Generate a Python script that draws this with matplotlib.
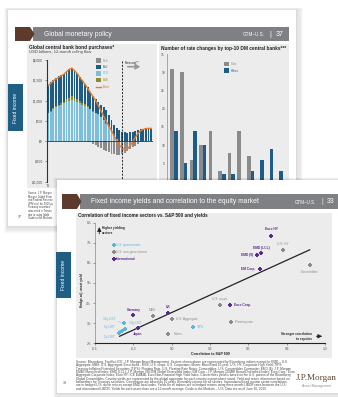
import matplotlib
matplotlib.use('Agg')
import matplotlib.pyplot as plt
from matplotlib import font_manager
from matplotlib.patches import Rectangle, Polygon

# ---------------- data ----------------
# Global central bank bond purchases, USD billions, 12-month rolling flow
fed = [0, 0, 0, 0, 0, 0, 0, 0, 0, 0, 0, 0, 0, 0, 0, -10, -30, -60, -100, -145,
       -180, -215, -250, -280, -305, -320, -330, -330, -320, -290, -250, -200,
       -150, -110, -60, -25, -5, 0, 0, 0]
ecb = [683, 725, 783, 833, 867, 900, 933, 975, 1000, 1017, 992, 967, 933, 900,
       867, 830, 780, 730, 690, 660, 590, 510, 430, 340, 220, 130, 50, 10, 0, 0,
       0, 0, 0, 0, 0, 0, 0, 0, 0, 0]
boe = [20, 25, 25, 25, 25, 30, 40, 60, 75, 85, 80, 70, 60, 50, 40, 30, 20, 15,
       10, 10, 10, 5, 5, 5, 5, 5, 5, 5, 5, 5, 5, 5, 5, 5, 5, 5, 5, 5, 5, 5]
boj = [689, 700, 709, 700, 708, 703, 694, 690, 708, 706, 678, 646, 590, 550, 510,
       470, 420, 365, 330, 300, 300, 315, 325, 305, 295, 265, 265, 255, 220, 210,
       205, 210, 220, 240, 270, 295, 305, 306, 306, 306]
total = [1367, 1420, 1490, 1530, 1570, 1610, 1650, 1710, 1770, 1800, 1740, 1670,
         1570, 1490, 1400, 1300, 1200, 1100, 1000, 880, 750, 620, 490, 370, 260,
         130, 0, -90, -170, -220, -190, -120, -20, 90, 190, 255, 290, 310, 315, 315]
year_ticks = [0]
year_labels = ["'16"]
forecast_at = 27.9
cb_ticks = [-1000, -500, 0, 500, 1000, 1500, 2000]
cb_labels = ['-$1,000', '-$500', '$0', '$500', '$1,000', '$1,500', '$2,000']

# Number of rate changes by top-10 DM central banks
cuts = [31, 30, 6, 10, 14, 3, 8, 14, 7, 0, 0, 0]
hikes = [14, 5, 14, 10, 0, 2, 2, 0, 3, 6, 9, 3]

# Correlation of fixed income sectors vs. S&P 500 and yields
sectors = ['30y UST', '10y UST', '5y UST', '2y UST', 'TIPS', 'MBS', 'U.S. Aggregate',
           'Munis', 'U.S. corps', 'Floating rate', 'U.S. HY', 'Convertibles',
           'Germany', 'Japan', 'UK', 'Euro Corp.', 'EM Corp.', 'EMD ($)',
           'EMD (LCL)', 'Euro HY']
corr = [-0.313, -0.305, -0.324, -0.342, 0.141, -0.124, 0.0, -0.022, 0.315, 0.389,
        0.724, 0.904, -0.250, -0.220, -0.026, 0.382, 0.574, 0.556, 0.584, 0.648]
yld = [3.00, 2.72, 2.60, 2.50, 2.82, 3.37, 3.22, 2.44, 3.92, 3.05, 6.64, 5.89,
       3.43, 2.77, 3.49, 3.90, 5.70, 6.37, 6.47, 7.35]
group = ['gov', 'gov', 'gov', 'gov', 'gov', 'non', 'non', 'non', 'non', 'non',
         'non', 'non', 'intl', 'intl', 'intl', 'intl', 'intl', 'intl', 'intl', 'intl']
trend_x = [-0.34, 0.90]
trend_y = [2.35, 6.65]
group_names = ['gov', 'non', 'intl']
group_labels = ['U.S. government', 'U.S. non-government', 'International']
corr_ticks = [-0.5, -0.25, 0.0, 0.25, 0.5, 0.75, 1.0]
corr_labels = ['-0.5', '-0.3', '0.0', '0.3', '0.5', '0.8', '1.0']
yld_ticks = [2, 3, 4, 5, 6, 7, 8]

back_source = ['Source: J.P. Morgan', 'Morgan Global Econ', 'and Federal Reserve',
               'JPM and, for 2019 pu', 'Treasury securities.', 'reinvested in Treasu',
               'due to rising liabilit', 'Guide to the Markets']
front_source = [
    'Source: Bloomberg, FactSet, ICE, J.P. Morgan Asset Management. Sectors shown above are represented by Bloomberg indices except for EMD – U.S.',
    'Aggregate; MBS: U.S. Aggregate Securitized - MBS; U.S. corps: U.S. Corporates; Munis: Muni Bond 10-year; U.S. HY: Corporate High Yield; TIPS:',
    'Treasury Inflation Protected Securities (TIPS); Floating Rate: U.S. Floating Rate Notes; Convertibles: U.S. Convertibles Composite; EMD ($): J.P. Morgan',
    'EMBI Diversified Index; EMD (LCL): J.P. Morgan GBI-EM Global Diversified Index; EM Corp.: J.P. Morgan CEMBI Broad Diversified Index; Euro Corp.: Euro',
    'Aggregate Corporate Index; Euro HY: ICE BofAML Euro Non-Financial High Yield Index. Convertibles yield is based on the U.S. portion of the Bloomberg',
    'Global Convertibles. Country yields are represented by the global aggregate for each country except where noted. Yield and return information based on',
    'bellwethers for Treasury securities. Correlations are based on 10 years of monthly returns for all sectors. International fixed income sector correlations',
    'are in hedged U.S. dollar returns except EMD local index. Yields for all indices are in hedged returns using three-month LIBOR rates between the U.S.',
    'and international LIBOR. Yields for each asset class are a 12-month average. Guide to the Markets – U.S. Data are as of June 30, 2019.',
]

# ---------------- style ----------------
names = {f.name for f in font_manager.fontManager.ttflist}
NARROW = 'Liberation Sans Narrow' in names
FONT = 'Liberation Sans Narrow' if NARROW else 'Liberation Sans'
K = 1.0 if NARROW else 0.86
plt.rcParams['font.family'] = [FONT, 'DejaVu Sans']

GREY_HDR = '#7f8083'
BROWN = '#5d3a2b'
TAB = '#1f5f86'
PANEL = '#ececec'
C_FED = '#8b8b8b'
C_BOJ = '#1d5c86'
C_ECB = '#7cbfdd'
C_BOE = '#8c8c2e'
C_TOT = '#ec7a24'
C_GOV = '#5ab4de'
C_NON = '#8a8a8a'
C_INT = '#5b2a8e'
colors = {'gov': C_GOV, 'non': C_NON, 'intl': C_INT}

W, H = 338, 397
fig = plt.figure(figsize=(W / 100, H / 100), dpi=100)
fig.patch.set_facecolor('white')
renderer = fig.canvas.get_renderer()


def rect(x0, y0, x1, y1):
    return [x0 / W, 1 - y1 / H, (x1 - x0) / W, (y1 - y0) / H]


def fit(t, width):
    # scale a text so that it spans the width seen in the reference
    for _ in range(3):
        w = t.get_window_extent(renderer=renderer).width
        if w > 0:
            t.set_fontsize(t.get_fontsize() * width / w)
    return t


def page_ax(z):
    a = fig.add_axes([0, 0, 1, 1])
    a.set_xlim(0, W)
    a.set_ylim(H, 0)
    a.axis('off')
    a.set_zorder(z)
    a.patch.set_alpha(0)
    return a


def slide(a, x0, y0, x1, y1):
    for k in range(1, 7):
        a.add_patch(Rectangle((x0 - k * 0.6, y0 - k * 0.4), x1 - x0 + k * 1.8, y1 - y0 + k * 1.6,
                              color='black', alpha=0.025, lw=0))
    a.add_patch(Rectangle((x0, y0), x1 - x0, y1 - y0, color='white', lw=0))


def header(a, x0, x1, y0, y1, title, title_w):
    ym = (y0 + y1) / 2
    a.add_patch(Rectangle((x0 + 18, y0), x1 - x0 - 18, y1 - y0, color=GREY_HDR, lw=0))
    a.add_patch(Polygon([(x0, y0), (x0 + 15, y0), (x0 + 19.5, ym), (x0 + 15, y1), (x0, y1)],
                        color=BROWN, lw=0))
    fit(a.text(x0 + 29, ym, title, color='white', fontsize=6, va='center'), title_w)


def tab(a, x0, y0, x1, y1):
    a.add_patch(Rectangle((x0, y0), x1 - x0, y1 - y0, color=TAB, lw=0))
    a.text((x0 + x1) / 2, (y0 + y1) / 2, 'Fixed income', color='white', fontsize=4.2 * K,
           rotation=90, ha='center', va='center')


# ---------------- back slide ----------------
bg0 = page_ax(0)
slide(bg0, 8, 10, 296, 226)
header(bg0, 15, 289, 27, 41, 'Global monetary policy', 68)
bg0.text(243, 34.6, 'GTM–U.S.', color='white', fontsize=3.9 * K, va='center')
bg0.text(269, 34, '|', color='white', fontsize=6 * K, va='center')
bg0.text(276, 34, '37', color='white', fontsize=6 * K, va='center')
tab(bg0, 8, 84, 23, 131)
bg0.add_patch(Rectangle((27, 44), 130, 144, color=PANEL, lw=0))
bg0.add_patch(Rectangle((159, 44), 130, 144, color=PANEL, lw=0))
fit(bg0.text(29, 47.5, 'Global central bank bond purchases*', fontsize=3.7, weight='bold',
             color='#222', va='center'), 85)
fit(bg0.text(29, 52.5, 'USD billions, 12-month rolling flow', fontsize=2.8, color='#444',
             va='center'), 62)
fit(bg0.text(161, 48.5, 'Number of rate changes by top-10 DM central banks***', fontsize=3.7,
             weight='bold', color='#222', va='center'), 126)
for i, line in enumerate(back_source):
    bg0.text(28, 193 + 3.6 * i, line, fontsize=2.2 * K, color='#444', va='center')
bg0.text(18, 217, '37', fontsize=3 * K, color='#555', va='center')

# legend of left chart
for lab, col, yy in [('Fed', C_FED, 60.5), ('BoJ', C_BOJ, 67), ('ECB', C_ECB, 73.5),
                     ('BoE', C_BOE, 80)]:
    bg0.add_patch(Rectangle((96, yy - 2.4), 4.8, 4.8, color=col, lw=0))
    bg0.text(103, yy, lab, fontsize=2.6 * K, color=col, va='center')
bg0.plot([95.5, 101], [86.5, 86.5], color=C_TOT, lw=1)
bg0.text(103, 86.5, 'Total', fontsize=2.6 * K, color=C_TOT, va='center')
bg0.text(125, 62.5, 'Forecast**', fontsize=2.6 * K, color='#222', va='center')
bg0.annotate('', xy=(143, 66.7), xytext=(125, 66.7),
             arrowprops=dict(arrowstyle='-|>,head_length=0.25,head_width=0.15', color='#999',
                             lw=1.2))
# legend of right chart
for lab, col, yy in [('Cuts', C_FED, 64), ('Hikes', C_BOJ, 70.5)]:
    bg0.add_patch(Rectangle((224, yy - 2.2), 5, 4.4, color=col, lw=0))
    bg0.text(231, yy, lab, fontsize=2.6 * K, color=col, va='center')

# left chart: central bank purchases
axl = fig.add_axes(rect(46.7, 60, 152.5, 181.7))
axl.set_zorder(1)
axl.patch.set_alpha(0)
idx = list(range(len(total)))
pos_base = [e + b for e, b in zip(ecb, boe)]
axl.bar(idx, fed, width=0.72, color=C_FED, lw=0)
axl.bar(idx, ecb, width=0.72, color=C_ECB, lw=0)
axl.bar(idx, boe, bottom=ecb, width=0.72, color=C_BOE, lw=0)
axl.bar(idx, boj, bottom=pos_base, width=0.72, color=C_BOJ, lw=0)
axl.plot(idx, total, color=C_TOT, lw=1.0)
axl.axhline(0, color='#333', lw=0.6)
axl.axvline(forecast_at, color='#222', lw=0.7, ls=(0, (2, 1.5)))
axl.set_xlim(-0.5, len(total) - 0.5)
axl.set_ylim(-1000, 2000)
axl.set_yticks(cb_ticks)
axl.set_yticklabels(cb_labels)
axl.set_xticks(year_ticks)
axl.set_xticklabels(year_labels)
axl.tick_params(axis='both', labelsize=2.7 * K, colors='#444', length=1.2, width=0.4, pad=1.5)
axl.tick_params(axis='x', length=0)
for s in ['top', 'right', 'bottom']:
    axl.spines[s].set_visible(False)
axl.spines['left'].set_color('#333')
axl.spines['left'].set_linewidth(0.8)

# right chart: rate changes
axr = fig.add_axes(rect(167, 54, 289, 181.7))
axr.set_zorder(1)
axr.patch.set_alpha(0)
ridx = list(range(len(cuts)))
axr.bar([i - 0.19 for i in ridx], cuts, width=0.38, color=C_FED, lw=0)
axr.bar([i + 0.19 for i in ridx], hikes, width=0.38, color=C_BOJ, lw=0)
axr.set_xlim(-0.73, 12.0)
axr.set_ylim(0, 35)
axr.set_yticks([5, 10, 15, 20, 25, 30, 35])
axr.set_xticks([])
axr.tick_params(axis='both', labelsize=2.7 * K, colors='#444', length=0, pad=1.5)
for s in ['top', 'right', 'bottom']:
    axr.spines[s].set_visible(False)
axr.spines['left'].set_color('#999')
axr.spines['left'].set_linewidth(0.6)

# ---------------- front slide ----------------
bg1 = page_ax(2)
slide(bg1, 57, 180, 350, 393)
header(bg1, 62, 345, 194, 209, 'Fixed income yields and correlation to the equity market', 166)
bg1.text(295, 202.2, 'GTM–U.S.', color='white', fontsize=3.8 * K, va='center')
bg1.text(321.5, 201.5, '|', color='white', fontsize=5.8 * K, va='center')
bg1.text(326.5, 201.5, '33', color='white', fontsize=5.8 * K, va='center')
tab(bg1, 56, 252, 71, 298)
bg1.add_patch(Rectangle((76, 213), 256, 145, color=PANEL, lw=0))
fit(bg1.text(78, 216, 'Correlation of fixed income sectors vs. S&P 500 and yields',
             fontsize=3.8, weight='bold', color='#222', va='center'), 133)
bg1.text(81.5, 290, 'Hedge adj. asset yield', fontsize=2.7 * K, weight='bold', color='#222',
         rotation=90, ha='center', va='center')
fit(bg1.text(210, 354, 'Correlation to S&P 500', fontsize=2.9, weight='bold', color='#222',
             ha='center', va='center'), 40)

# footer: one common size so the longest line spans the reference width
foot = [bg1.text(76, 362 + 3.35 * i, line, fontsize=2.0, color='#444', va='center')
        for i, line in enumerate(front_source)]
widest = max(t.get_window_extent(renderer=renderer).width for t in foot)
for t in foot:
    t.set_fontsize(2.0 * 216 / widest)
bg1.text(63, 383, '33', fontsize=3 * K, color='#555', va='center')
fit(bg1.text(316.5, 378, 'J.P.Morgan', fontsize=6.6, color='#5b4636', ha='center',
             va='center', family=['Liberation Serif', 'DejaVu Serif']), 41)
bg1.text(316.5, 386.5, 'Asset Management', fontsize=2.8 * K, color='#8a8a8a', ha='center',
         va='center')

# scatter chart
axs = fig.add_axes(rect(95, 222.7, 325, 343.3))
axs.set_zorder(3)
axs.patch.set_alpha(0)
axs.plot(trend_x, trend_y, color='#222', lw=0.9, zorder=2)
for g in group_names:
    xs = [c for c, gg in zip(corr, group) if gg == g]
    ys = [v for v, gg in zip(yld, group) if gg == g]
    axs.scatter(xs, ys, marker='P', s=11, color=colors[g], lw=0, zorder=3)

# label placement: (dx px, dy px, ha, leader line)
place = {
    '30y UST': (-8, 4.5, 'right', True), '10y UST': (4.5, 6, 'left', True),
    '5y UST': (-7, 4, 'right', True), '2y UST': (-4.5, -4, 'right', True),
    'TIPS': (3.5, 0, 'left', False), 'MBS': (0, 6, 'center', False),
    'U.S. Aggregate': (4.3, 0, 'left', False), 'Munis': (5, 0, 'left', False),
    'U.S. corps': (0, 5.6, 'center', False), 'Floating rate': (4, 0, 'left', False),
    'U.S. HY': (0, 5.7, 'center', False), 'Convertibles': (0, -6.7, 'center', False),
    'Germany': (0, 5, 'center', False), 'Japan': (0, -6, 'center', False),
    'UK': (0, 6, 'center', False), 'Euro Corp.': (4, 0, 'left', False),
    'EM Corp.': (-4, 0, 'right', False), 'EMD ($)': (-4, 0, 'right', False),
    'EMD (LCL)': (0, 5.7, 'center', False), 'Euro HY': (0, 6.4, 'center', False),
}
for name, xv, yv, g in zip(sectors, corr, yld, group):
    dx, dy, ha, lead = place[name]
    ap = dict(arrowstyle='-', color=colors[g], lw=0.3, shrinkA=0, shrinkB=1.5) if lead else None
    axs.annotate(name, (xv, yv), xytext=(dx, dy), textcoords='offset pixels',
                 fontsize=2.7 * K, color=colors[g], ha=ha, va='center',
                 weight='bold' if g == 'intl' else 'normal', arrowprops=ap, zorder=4)

# legend
for i, (g, lab) in enumerate(zip(group_names, group_labels)):
    yy = 6.88 - 0.35 * i
    axs.scatter([-0.378], [yy], marker='P', s=8, color=colors[g], lw=0)
    axs.text(-0.362, yy, lab, fontsize=2.7 * K, color=colors[g], va='center',
             weight='bold' if g == 'intl' else 'normal')

axs.annotate('', xy=(-0.472, 7.92), xytext=(-0.472, 7.3),
             arrowprops=dict(arrowstyle='-|>,head_length=0.25,head_width=0.12', color='#222',
                             lw=0.6))
axs.text(-0.455, 7.6, 'Higher yielding\nsectors', fontsize=2.6 * K, weight='bold',
         color='#222', va='center', linespacing=1.3)
axs.text(0.912, 2.32, 'Stronger correlation\nto equities', fontsize=2.6 * K, weight='bold',
         color='#222', va='center', ha='right', linespacing=1.3)
axs.annotate('', xy=(1.0, 2.35), xytext=(0.925, 2.35),
             arrowprops=dict(arrowstyle='-|>,head_length=0.25,head_width=0.12', color='#222',
                             lw=0.6))

axs.set_xlim(-0.5, 1.0)
axs.set_ylim(2, 8)
axs.set_xticks(corr_ticks)
axs.set_xticklabels(corr_labels)
axs.set_yticks(yld_ticks)
axs.set_yticklabels([f'{t}%' for t in yld_ticks])
axs.tick_params(axis='both', labelsize=2.7 * K, colors='#555', length=1.3, width=0.4, pad=1.5)
for s in ['top', 'right']:
    axs.spines[s].set_visible(False)
axs.spines['bottom'].set_color('#222')
axs.spines['bottom'].set_linewidth(0.8)
axs.spines['left'].set_color('#888')
axs.spines['left'].set_linewidth(0.5)

fig.savefig('out.png', dpi=100)
